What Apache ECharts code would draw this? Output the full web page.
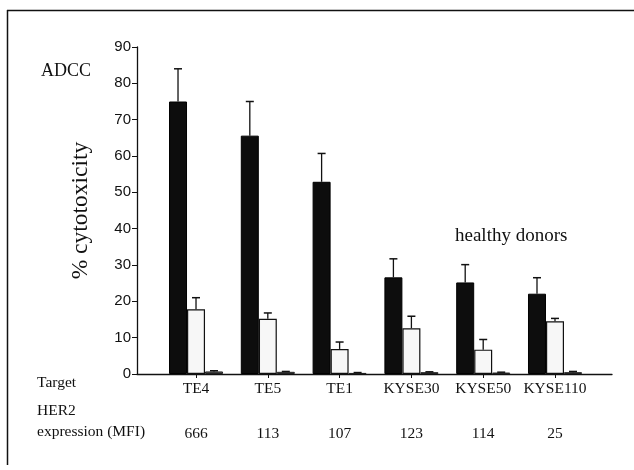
<!DOCTYPE html>
<html>
<head>
<meta charset="utf-8">
<script src="https://cdn.jsdelivr.net/npm/echarts@6/dist/echarts.min.js"></script>
<style>html,body{margin:0;padding:0;background:#fff}#c{width:634px;height:470px}</style>
</head>
<body>
<div id="c"></div>
<script>
const categories = ['TE4', 'TE5', 'TE1', 'KYSE30', 'KYSE50', 'KYSE110'];
const her2MFI = ['666', '113', '107', '123', '114', '25'];
const yTicks = [0, 10, 20, 30, 40, 50, 60, 70, 80, 90];
// % cytotoxicity, mean and upper error (SD)
const blackMean = [75, 65.6, 52.9, 26.6, 25.2, 22.1];
const blackErr  = [9, 9.4, 7.8, 5.1, 4.9, 4.4];
const whiteMean = [17.8, 15.2, 6.9, 12.6, 6.7, 14.5];
const whiteErr  = [3.2, 1.6, 1.9, 3.3, 2.8, 0.8];
const greyMean  = [0.7, 0.6, 0.3, 0.5, 0.4, 0.5];
const greyErr   = [0.2, 0.1, 0.1, 0.1, 0.1, 0.2];

const serif = 'Liberation Serif';
const sans = 'Liberation Sans';

function pairs(vals) { return vals.map((v, i) => [i, v]); }
function errData(m, e) { return m.map((v, i) => [i, v, v + e[i]]); }
function errSeries(m, e, off) {
  return {
    type: 'custom', xAxisIndex: 0, yAxisIndex: 0, z: 5,
    data: errData(m, e),
    renderItem: function (params, api) {
      const top = api.coord([api.value(0), api.value(1)]);
      const hi = api.coord([api.value(0), api.value(2)]);
      const x = top[0] + off;
      return {
        type: 'group',
        children: [
          { type: 'line', shape: { x1: x, y1: top[1], x2: x, y2: hi[1] }, style: { stroke: '#111', lineWidth: 1.3 } },
          { type: 'line', shape: { x1: x - 4, y1: hi[1], x2: x + 4, y2: hi[1] }, style: { stroke: '#111', lineWidth: 1.5 } }
        ]
      };
    }
  };
}

const chart = echarts.init(document.getElementById('c'), null, { renderer: 'canvas' });
chart.setOption({
  animation: false,
  backgroundColor: '#fff',
  grid: { left: 137, right: 22, top: 47, bottom: 96 },
  xAxis: [{
    type: 'value', min: -0.822, max: 5.794,
    splitLine: { show: false },
    axisLine: { show: true, onZero: false, lineStyle: { color: '#111', width: 1.3 } },
    axisTick: { show: true, length: 4, customValues: [0, 1, 2, 3, 4, 5], lineStyle: { color: '#111' } },
    axisLabel: {
      customValues: [0, 1, 2, 3, 4, 5], margin: 7,
      formatter: v => categories[Math.round(v)],
      fontFamily: serif, fontSize: 15.5, color: '#111'
    }
  }, {
    type: 'value', min: -0.822, max: 5.794, position: 'bottom', offset: 44,
    splitLine: { show: false }, axisLine: { show: false }, axisTick: { show: false },
    axisLabel: {
      customValues: [0, 1, 2, 3, 4, 5], margin: 8,
      formatter: v => her2MFI[Math.round(v)],
      fontFamily: serif, fontSize: 15.5, color: '#111'
    }
  }],
  yAxis: {
    type: 'value', min: 0, max: 90, interval: 10,
    splitLine: { show: false },
    axisLine: { show: true, onZero: false, lineStyle: { color: '#111', width: 1.3 } },
    axisTick: { show: true, length: 5, lineStyle: { color: '#111' } },
    axisLabel: { fontFamily: sans, fontSize: 15, color: '#111', margin: 6 },
    name: '% cytotoxicity', nameLocation: 'middle', nameGap: 44,
    nameTextStyle: { fontFamily: serif, fontSize: 23.5, color: '#111' }
  },
  series: [
    { type: 'bar', data: pairs(blackMean), barWidth: 18, barGap: '0%', itemStyle: { color: '#0d0d0d', borderColor: '#000', borderWidth: 1 } },
    { type: 'bar', data: pairs(whiteMean), barWidth: 18, barGap: '0%', itemStyle: { color: '#f7f7f7', borderColor: '#111', borderWidth: 1.2 } },
    { type: 'bar', data: pairs(greyMean), barWidth: 18, barGap: '0%', itemStyle: { color: '#555', borderColor: '#222', borderWidth: 1 } },
    errSeries(blackMean, blackErr, -18),
    errSeries(whiteMean, whiteErr, 0),
    errSeries(greyMean, greyErr, 18)
  ],
  graphic: [
    { type: 'line', shape: { x1: 7, y1: 10.5, x2: 634, y2: 10.5 }, style: { stroke: '#111', lineWidth: 1.5 } },
    { type: 'line', shape: { x1: 7.5, y1: 10, x2: 7.5, y2: 465 }, style: { stroke: '#111', lineWidth: 1.5 } },
    { type: 'text', left: 41, top: 62, style: { text: 'ADCC', font: '18px "Liberation Serif"', fill: '#111' } },
    { type: 'text', left: 455, top: 227, style: { text: 'healthy donors', font: '19px "Liberation Serif"', fill: '#111' } },
    { type: 'text', left: 37, top: 375, style: { text: 'Target', font: '15.5px "Liberation Serif"', fill: '#111' } },
    { type: 'text', left: 37, top: 400, style: { text: 'HER2\nexpression (MFI)', font: '15.5px "Liberation Serif"', lineHeight: 21, fill: '#111' } }
  ]
});
</script>
</body>
</html>
